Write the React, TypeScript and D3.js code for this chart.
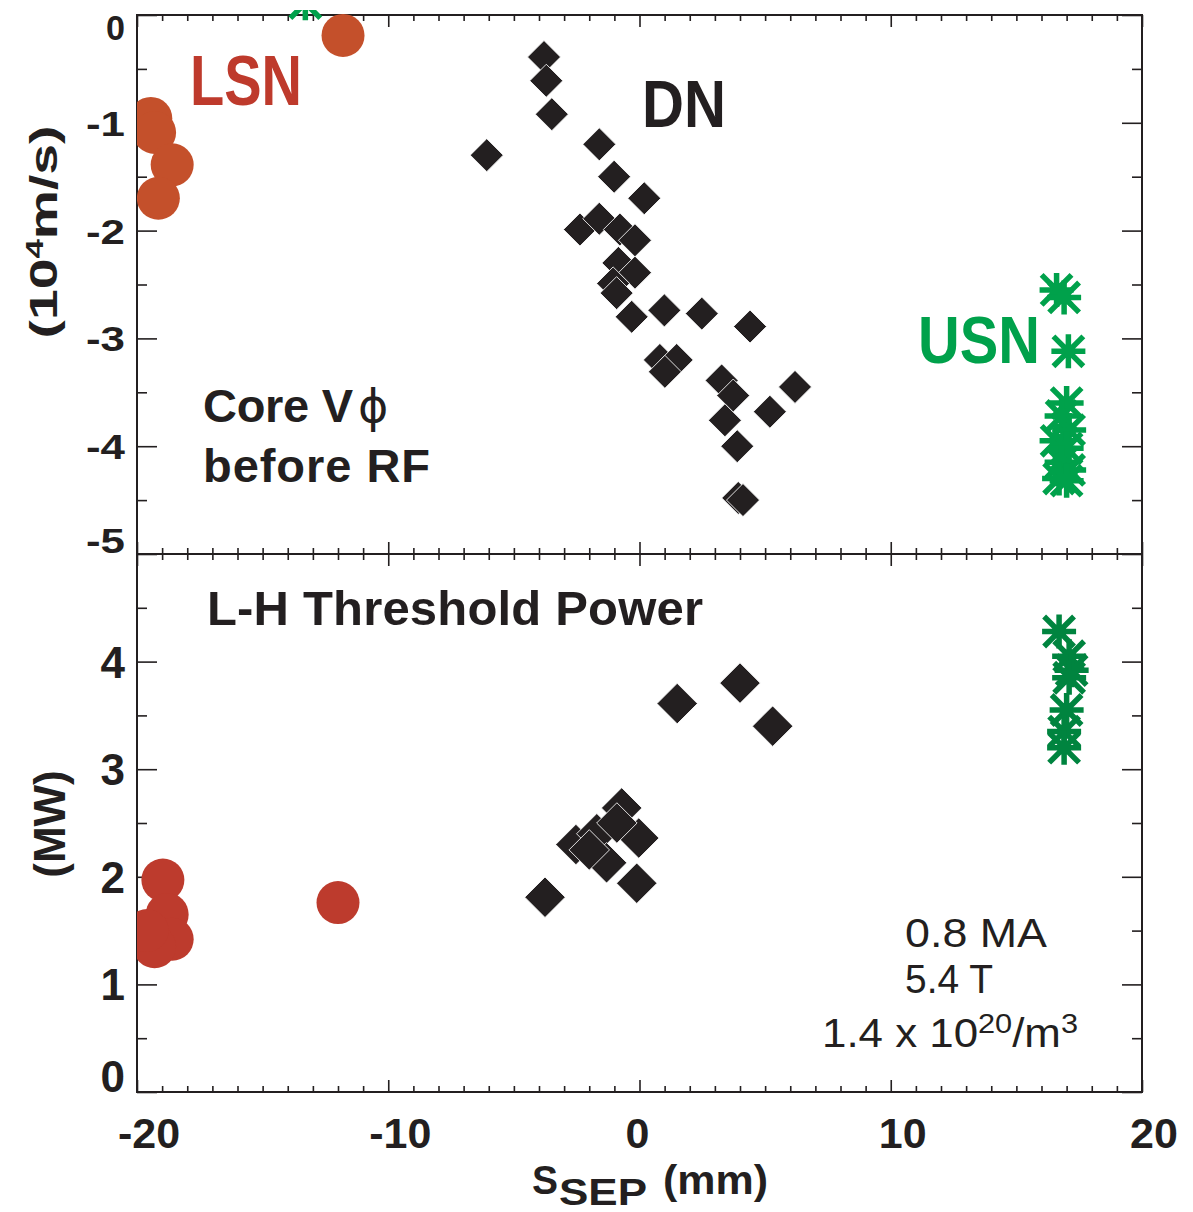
import React, { useRef, useEffect } from 'react';
import * as d3 from 'd3';

// Top panel: core toroidal velocity before RF (10^4 m/s) vs S_SEP (mm)
const lsnVelX = [-11.8, -19.45, -19.3, -18.6, -19.15];
const lsnVelY = [-0.19, -0.96, -1.09, -1.39, -1.70];

const dnVelX = [-3.80, -3.71, -3.49, -6.08, -1.60, -1.01, 0.19, -2.37, -1.60, -0.78, -0.18, -0.84, -0.18, -1.05,
  -0.91, -0.31, 0.99, 2.48, 4.40, 0.81, 1.48, 1.01, 3.27, 3.73, 3.40, 5.19, 6.19, 3.89, 3.93, 4.12];
const dnVelY = [-0.39, -0.61, -0.92, -1.30, -1.20, -1.50, -1.70, -1.99, -1.89, -1.99, -2.09, -2.30, -2.39, -2.49,
  -2.58, -2.80, -2.74, -2.77, -2.89, -3.20, -3.20, -3.31, -3.39, -3.53, -3.76, -3.68, -3.45, -4.00, -4.48, -4.50];

const usnVelX = [-13.3, 16.6, 16.9, 17.07, 17.0, 16.8, 17.1, 16.6, 17.0, 16.8, 17.1, 16.7, 17.0];
const usnVelY = [0.11, -2.55, -2.62, -3.12, -3.60, -3.72, -3.85, -3.95, -4.02, -4.15, -4.22, -4.30, -4.32];

// Bottom panel: L-H threshold power (MW) vs S_SEP (mm)
const lsnPowX = [-18.97, -12.0, -18.8, -18.6, -19.3, -19.6];
const lsnPowY = [1.97, 1.76, 1.65, 1.42, 1.35, 1.50];

const dnPowX = [1.50, 4.00, 5.30, -0.71, -0.03, -2.53, -1.70, -1.31, -0.11, -3.76, -0.9, -2.0];
const dnPowY = [3.61, 3.80, 3.40, 2.64, 2.36, 2.30, 2.40, 2.13, 1.94, 1.81, 2.50, 2.25];

const usnPowX = [16.7, 17.1, 17.2, 17.1, 17.0, 16.9, 16.9];
const usnPowY = [4.28, 4.05, 3.92, 3.85, 3.55, 3.35, 3.20];

const xTicks = [-20, -10, 0, 10, 20];
const velTicks = [0, -1, -2, -3, -4, -5];
const powTicks = [0, 1, 2, 3, 4];

const W = 1193;
const H = 1212;
const LEFT = 137, RIGHT = 1142, TOP = 15, MID = 554, BOTTOM = 1092;

const FONT = '"Liberation Sans", Arial, Helvetica, sans-serif';
const INK = '#231f20';
const RED_TOP = '#c4502b';
const RED_BOT = '#bd3b2d';
const GREEN_TOP = '#00a14b';
const GREEN_BOT = '#00843f';

// eight-armed asterisk: a plus and a cross
const asterisk8 = {
  draw(context, size) {
    const r = Math.sqrt(size) / 2;
    context.moveTo(-r, 0); context.lineTo(r, 0);
    context.moveTo(0, -r); context.lineTo(0, r);
    const d = r * 0.88;
    context.moveTo(-d, -d); context.lineTo(d, d);
    context.moveTo(-d, d); context.lineTo(d, -d);
  }
};

const zip = (xs, ys) => xs.map((v, i) => [v, ys[i]]);

export default function App() {
  const svgRef = useRef(null);

  useEffect(() => {
    const svg = d3.select(svgRef.current)
      .attr('width', W)
      .attr('height', H);

    const x = d3.scaleLinear().domain([-20, 20]).range([LEFT, RIGHT]);
    const yVel = d3.scaleLinear().domain([-5, 0]).range([MID, TOP]);
    const yPow = d3.scaleLinear().domain([0, 5]).range([BOTTOM, MID]);

    const defs = svg.append('defs');
    defs.append('clipPath').attr('id', 'clip-vel').append('rect')
      .attr('x', LEFT).attr('y', TOP - 5).attr('width', RIGHT - LEFT).attr('height', MID - TOP + 5);
    defs.append('clipPath').attr('id', 'clip-pow').append('rect')
      .attr('x', LEFT).attr('y', MID).attr('width', RIGHT - LEFT).attr('height', BOTTOM - MID);

    // ticks (all pointing into the plot)
    const tickRow = (axis, values, size, transform) => {
      svg.append('g')
        .attr('transform', transform)
        .call(axis.tickValues(values).tickSize(size).tickSizeOuter(0).tickFormat(() => ''))
        .call(g => g.select('.domain').remove())
        .call(g => g.selectAll('line').attr('stroke', INK).attr('stroke-width', 1.6));
    };
    const xMinor = d3.range(-20, 21).filter(v => v % 10 !== 0);
    const velMinor = d3.range(-4.5, 0, 1);
    const powMinor = d3.range(0.5, 5, 1);

    tickRow(d3.axisBottom(x), xTicks, 12, `translate(0,${TOP})`);
    tickRow(d3.axisBottom(x), xMinor, 6, `translate(0,${TOP})`);
    tickRow(d3.axisTop(x), xTicks, 12, `translate(0,${MID})`);
    tickRow(d3.axisTop(x), xMinor, 6, `translate(0,${MID})`);
    tickRow(d3.axisBottom(x), xTicks, 12, `translate(0,${MID})`);
    tickRow(d3.axisBottom(x), xMinor, 6, `translate(0,${MID})`);
    tickRow(d3.axisTop(x), xTicks, 12, `translate(0,${BOTTOM})`);
    tickRow(d3.axisTop(x), xMinor, 6, `translate(0,${BOTTOM})`);

    tickRow(d3.axisRight(yVel), velTicks, 20, `translate(${LEFT},0)`);
    tickRow(d3.axisRight(yVel), velMinor, 10, `translate(${LEFT},0)`);
    tickRow(d3.axisLeft(yVel), velTicks, 20, `translate(${RIGHT},0)`);
    tickRow(d3.axisLeft(yVel), velMinor, 10, `translate(${RIGHT},0)`);
    tickRow(d3.axisRight(yPow), powTicks, 20, `translate(${LEFT},0)`);
    tickRow(d3.axisRight(yPow), powMinor, 10, `translate(${LEFT},0)`);
    tickRow(d3.axisLeft(yPow), powTicks, 20, `translate(${RIGHT},0)`);
    tickRow(d3.axisLeft(yPow), powMinor, 10, `translate(${RIGHT},0)`);

    // frame
    svg.append('rect')
      .attr('x', LEFT).attr('y', TOP)
      .attr('width', RIGHT - LEFT).attr('height', BOTTOM - TOP)
      .attr('fill', 'none').attr('stroke', INK).attr('stroke-width', 2);
    svg.append('line')
      .attr('x1', LEFT).attr('x2', RIGHT).attr('y1', MID).attr('y2', MID)
      .attr('stroke', INK).attr('stroke-width', 2);

    // tick labels
    svg.append('g').selectAll('text').data(xTicks).enter().append('text')
      .attr('x', d => x(d) + (d === 0 ? -2 : 12))
      .attr('y', 1148)
      .attr('text-anchor', 'middle')
      .style('font', `bold 43px ${FONT}`)
      .attr('fill', INK)
      .text(d => d);

    svg.append('g').selectAll('text').data(velTicks).enter().append('text')
      .attr('x', 125)
      .attr('y', d => d === 0 ? 40 : d === -5 ? 553 : yVel(d) + 13)
      .attr('text-anchor', 'end')
      .style('font', `bold 35px ${FONT}`)
      .attr('textLength', d => d === 0 ? 19 : 39)
      .attr('lengthAdjust', 'spacingAndGlyphs')
      .attr('fill', INK)
      .text(d => d);

    svg.append('g').selectAll('text').data(powTicks).enter().append('text')
      .attr('x', 125)
      .attr('y', d => d === 0 ? 1092 : yPow(d) + 16)
      .attr('text-anchor', 'end')
      .style('font', `bold 44px ${FONT}`)
      .attr('fill', INK)
      .text(d => d);

    // markers
    const circleR = 21.5;
    const drawPanel = (clipId, y, lsn, dn, usn, red, green, diamondArea) => {
      const diamond = d3.symbol(d3.symbolSquare, diamondArea)();
      const star = d3.symbol(asterisk8, 34 * 34)();
      const g = svg.append('g').attr('clip-path', `url(#${clipId})`);
      g.selectAll('circle.lsn').data(lsn).enter().append('circle')
        .attr('class', 'lsn')
        .attr('cx', d => x(d[0]))
        .attr('cy', d => y(d[1]))
        .attr('r', circleR)
        .attr('fill', red);
      g.selectAll('path.dn').data(dn).enter().append('path')
        .attr('class', 'dn')
        .attr('d', diamond)
        .attr('transform', d => `translate(${x(d[0])},${y(d[1])}) rotate(45)`)
        .attr('fill', INK)
        .attr('stroke', '#ffffff')
        .attr('stroke-width', 0.8);
      g.selectAll('path.usn').data(usn).enter().append('path')
        .attr('class', 'usn')
        .attr('d', star)
        .attr('transform', d => `translate(${x(d[0])},${y(d[1])})`)
        .attr('fill', 'none')
        .attr('stroke', green)
        .attr('stroke-width', 5.5);
    };

    drawPanel('clip-vel', yVel, zip(lsnVelX, lsnVelY), zip(dnVelX, dnVelY), zip(usnVelX, usnVelY), RED_TOP, GREEN_TOP, 545);
    drawPanel('clip-pow', yPow, zip(lsnPowX, lsnPowY), zip(dnPowX, dnPowY), zip(usnPowX, usnPowY), RED_BOT, GREEN_BOT, 820);

    // labels inside the plots
    const label = (txt, px, py, size, color, len, weight = 'bold', adjust = 'spacingAndGlyphs') => {
      const t = svg.append('text')
        .attr('x', px).attr('y', py)
        .style('font', `${weight} ${size}px ${FONT}`)
        .attr('fill', color)
        .text(txt);
      if (len) t.attr('textLength', len).attr('lengthAdjust', adjust);
      return t;
    };

    label('LSN', 190, 105, 70, '#be3a2c', 112);
    label('DN', 642, 127, 66, INK, 84);
    label('USN', 918, 363, 66, GREEN_TOP, 122);

    label('Core V', 203, 422, 47, INK, 150, 'bold', 'spacing');
    svg.append('text')
      .attr('x', 358).attr('y', 422)
      .style('font', `normal 46px "DejaVu Sans", ${FONT}`)
      .attr('fill', INK)
      .text('\u03D5');
    label('before RF', 203, 482, 47, INK, 227, 'bold', 'spacing');
    label('L-H Threshold Power', 207, 625, 49, INK, 496, 'bold', 'spacing');

    label('0.8 MA', 905, 947, 40, INK, 142, 'normal');
    label('5.4 T', 905, 993, 40, INK, 88, 'normal');
    const dens = svg.append('text')
      .attr('x', 822).attr('y', 1047)
      .style('font', `normal 40px ${FONT}`)
      .attr('fill', INK)
      .attr('textLength', 256)
      .attr('lengthAdjust', 'spacingAndGlyphs');
    dens.append('tspan').text('1.4 x 10');
    dens.append('tspan').attr('dy', -14).style('font-size', '28px').text('20');
    dens.append('tspan').attr('dy', 14).text('/m');
    dens.append('tspan').attr('dy', -14).style('font-size', '28px').text('3');

    // axis titles
    svg.append('text')
      .attr('x', 532).attr('y', 1194)
      .style('font', `bold 40px ${FONT}`)
      .attr('fill', INK)
      .attr('textLength', 26).attr('lengthAdjust', 'spacingAndGlyphs')
      .text('S');
    svg.append('text')
      .attr('x', 559).attr('y', 1205)
      .style('font', `bold 36px ${FONT}`)
      .attr('fill', INK)
      .attr('textLength', 88).attr('lengthAdjust', 'spacingAndGlyphs')
      .text('SEP');
    svg.append('text')
      .attr('x', 663).attr('y', 1194)
      .style('font', `bold 40px ${FONT}`)
      .attr('fill', INK)
      .attr('textLength', 105).attr('lengthAdjust', 'spacingAndGlyphs')
      .text('(mm)');

    const yt = svg.append('text')
      .attr('transform', 'translate(57,232) rotate(-90)')
      .attr('text-anchor', 'middle')
      .style('font', `bold 38px ${FONT}`)
      .attr('fill', INK)
      .attr('textLength', 213)
      .attr('lengthAdjust', 'spacingAndGlyphs');
    yt.append('tspan').text('(10');
    yt.append('tspan').attr('dy', -14).style('font-size', '24px').text('4');
    yt.append('tspan').attr('dy', 14).text('m/s)');

    svg.append('text')
      .attr('transform', 'translate(65,824) rotate(-90)')
      .attr('text-anchor', 'middle')
      .style('font', `bold 44px ${FONT}`)
      .attr('fill', INK)
      .text('(MW)');

    return () => {
      svg.selectAll('*').remove();
    };
  }, []);

  return <svg ref={svgRef} style={{ position: 'absolute', left: 0, top: 0, background: '#fff' }}></svg>;
}
